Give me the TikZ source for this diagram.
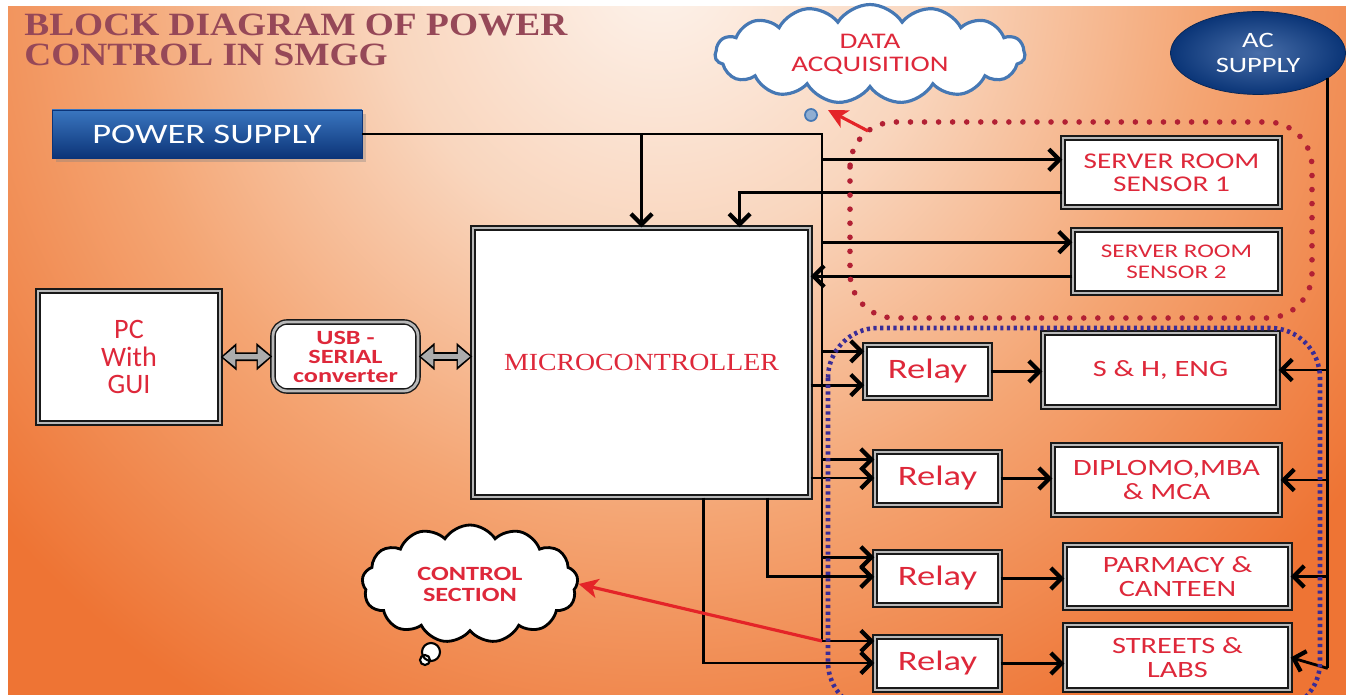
\documentclass[tikz,border=0pt]{standalone}
\usepackage{fontspec}
\setmainfont{Carlito}[FakeStretch=1.3]
\newfontfamily\pcfont{Carlito}
\newfontfamily\mcfont{Liberation Serif}[FakeStretch=1.13]
\newfontfamily\titlefont{Liberation Serif}[FakeStretch=1.15]
\usetikzlibrary{arrows.meta,calc,shapes.geometric,shapes.symbols,shadows}
\definecolor{txtred}{RGB}{222,40,58}
\definecolor{titlecol}{RGB}{150,72,88}
\definecolor{psblue}{RGB}{58,118,192}
\definecolor{psdark}{RGB}{12,52,120}
\definecolor{acblue}{RGB}{12,62,140}
\definecolor{cloudblue}{RGB}{70,120,180}
\definecolor{dotred}{RGB}{178,32,52}
\definecolor{dotblue}{RGB}{58,44,150}
\definecolor{arrred}{RGB}{228,36,40}
\definecolor{bgA}{RGB}{253,243,236}
\definecolor{bgB}{RGB}{249,214,190}
\definecolor{bgC}{RGB}{244,165,115}
\definecolor{bgD}{RGB}{238,116,52}
\pgfdeclareradialshading{bgshade}{\pgfpoint{0bp}{0bp}}{color(0bp)=(bgA); color(8bp)=(bgB); color(16bp)=(bgC); color(25bp)=(bgD); color(50bp)=(bgD)}
\begin{document}
\begin{tikzpicture}[x=0.02cm,y=-0.02cm,
  box/.style={draw=black!90,double=gray!55,double distance=1.6pt,line width=0.8pt,fill=white,text=txtred,align=center,inner sep=2pt},
  relaybox/.style={box,minimum width=2.5cm,minimum height=1.06cm,font=\fontsize{16}{18}\selectfont},
  loadbox/.style={box,minimum width=4.5cm,font=\fontsize{13.3}{14}\selectfont},
  wire/.style={line width=1.6pt,black},
  arr/.style={wire,-{Straight Barb[length=6pt,width=12pt,line width=2.4pt]}},
  fatout/.style={line width=5pt,black,{Triangle[length=9pt,width=15pt]}-{Triangle[length=9pt,width=15pt]}},
  fatin/.style={line width=3pt,gray!65,shorten <=1.3pt,shorten >=1.3pt,{Triangle[length=7pt,width=11pt]}-{Triangle[length=7pt,width=11pt]}},
  redarr/.style={line width=1.8pt,arrred,-{Stealth[length=11pt,width=11pt,inset=3pt]}},
  reddots/.style={draw=dotred,line width=3.2pt,line cap=round,dash pattern=on 0pt off 8pt,rounded corners=0.9cm},
  bluedots/.style={draw=dotblue,line width=2.6pt,dash pattern=on 1.8pt off 2pt,rounded corners=1cm}]
\useasboundingbox (0,0) rectangle (1346,695);
% background
\fill[white] (0,0) rectangle (1346,695);
\begin{scope}
\clip (8,7) rectangle (1346,695);
\fill[bgD] (8,7) rectangle (1346,695);
\shade[shading=bgshade] (660,-30) circle (860);
\end{scope}
\node[anchor=north west,align=left,text=titlecol,inner sep=0pt,font=\titlefont\bfseries\fontsize{18.5}{17}\selectfont] (title) at (24,14) {BLOCK DIAGRAM OF POWER\\CONTROL IN SMGG};
% blocks
\node[draw=psdark,top color=psblue,bottom color=psdark,minimum width=6.2cm,minimum height=0.96cm,text=white,font=\fontsize{16}{18}\selectfont,drop shadow={opacity=0.35}] (ps) at (207,134) {POWER SUPPLY};
\node[box,minimum width=6.74cm,minimum height=5.38cm,font=\mcfont\fontsize{14}{16}\selectfont] (mc) at (641.5,362.5) {MICROCONTROLLER};
\node[box,minimum width=3.64cm,minimum height=2.64cm,font=\pcfont\fontsize{16}{15.5}\selectfont] (pc) at (129,357) {PC\\With\\GUI};
\node[box,rounded corners=8pt,minimum width=2.9cm,minimum height=1.38cm,font=\bfseries\fontsize{11.5}{10.8}\selectfont] (usb) at (345.5,356.5) {USB -\\SERIAL\\converter};
\node[box,minimum width=4.34cm,minimum height=1.38cm,font=\fontsize{12.8}{13}\selectfont] (s1) at (1171.5,172.5) {SERVER ROOM\\SENSOR 1};
\node[box,minimum width=4.14cm,minimum height=1.26cm,font=\fontsize{11}{12}\selectfont] (s2) at (1176.5,261.5) {SERVER ROOM\\SENSOR 2};
\node[relaybox] (r1) at (927.5,371.5) {Relay};
\node[relaybox] (r2) at (937.5,478.5) {Relay};
\node[relaybox] (r3) at (937.5,578.5) {Relay};
\node[relaybox] (r4) at (937.5,663.5) {Relay};
\node[loadbox,minimum width=4.7cm,minimum height=1.48cm] (l1) at (1160.5,370) {S \& H, ENG};
\node[loadbox,minimum width=4.54cm,minimum height=1.4cm] (l2) at (1166.5,480) {DIPLOMO,MBA\\\& MCA};
\node[loadbox,minimum height=1.26cm] (l3) at (1177.5,576.5) {PARMACY \&\\CANTEEN};
\node[loadbox,minimum height=1.3cm] (l4) at (1177.5,657.5) {STREETS \&\\LABS};
\node[ellipse,inner color=acblue!75!white,outer color=acblue!85!black,draw=acblue!60!black,minimum width=3.5cm,minimum height=1.66cm,text=white,align=center,font=\fontsize{12.5}{14}\selectfont] (ac) at (1258,53) {AC\\SUPPLY};
% clouds
\node[cloud,cloud puffs=15,cloud puff arc=115,cloud ignores aspect,draw=cloudblue,line width=1.8pt,fill=white,minimum width=6.2cm,minimum height=1.84cm,text=txtred,align=center,font=\fontsize{12.7}{13}\selectfont] (daq) at (870,54) {DATA\\ACQUISITION};
\node[cloud,cloud puffs=13,cloud puff arc=115,cloud ignores aspect,draw=black,line width=1.6pt,fill=white,minimum width=4.32cm,minimum height=2.36cm,text=txtred,align=center,font=\bfseries\fontsize{11.5}{12}\selectfont] (ctrl) at (470,584) {CONTROL\\SECTION};
\draw[cloudblue,fill=cloudblue!60,line width=1pt] (811,115) circle (6);
\draw[black,fill=white,line width=1.2pt] (431,652) circle (9) (425,660) circle (5);
% power bus
\coordinate (bustop) at (822,134);
\coordinate (busbot) at (822,641);
\draw[wire] (ps.east) -- (bustop) -- (busbot);
\draw[arr] (ps.east -| mc.north) -- (mc.north);
% sensors
\coordinate (s1in) at ($(s1.north west)!0.32!(s1.south west)$);
\coordinate (s1out) at ($(s1.north west)!0.78!(s1.south west)$);
\coordinate (s2in) at ($(s2.north west)!0.2!(s2.south west)$);
\coordinate (s2out) at ($(s2.north west)!0.73!(s2.south west)$);
\draw[arr] (bustop |- s1in) -- (s1in);
\draw[arr] (s1out) -| ($(mc.north west)!0.79!(mc.north east)$);
\draw[arr] (bustop |- s2in) -- (s2in);
\draw[arr] (s2out) -- (mc.east |- s2out);
% relays
\coordinate (r1a) at ($(r1.north west)!0.13!(r1.south west)$);
\coordinate (r1b) at ($(r1.north west)!0.75!(r1.south west)$);
\coordinate (r2a) at ($(r2.north west)!0.15!(r2.south west)$);
\coordinate (r2b) at ($(r2.north west)!0.49!(r2.south west)$);
\coordinate (r3a) at ($(r3.north west)!0.11!(r3.south west)$);
\coordinate (r3b) at ($(r3.north west)!0.47!(r3.south west)$);
\coordinate (r4b) at ($(r4.north west)!0.49!(r4.south west)$);
\draw[arr] (bustop |- r1a) -- (r1a);
\draw[arr] (mc.east |- r1b) -- (r1b);
\draw[arr] (bustop |- r2a) -- (r2a);
\draw[arr] (mc.east |- r2b) -- (r2b);
\draw[arr] (bustop |- r3a) -- (r3a);
\draw[arr] ($(mc.south west)!0.872!(mc.south east)$) |- (r3b);
\draw[arr] (busbot) -- (busbot -| r4.west);
\draw[arr] ($(mc.south west)!0.683!(mc.south east)$) |- (r4b);
\draw[arr] (r1.east) -- (r1.east -| l1.west);
\draw[arr] (r2.east) -- (r2.east -| l2.west);
\draw[arr] (r3.east) -- (r3.east -| l3.west);
\draw[arr] (r4.east) -- (r4.east -| l4.west);
% ac supply
\path (ac.-20) ++(0,590) coordinate (acbot);
\draw[wire] (ac.-20) -- (acbot);
\draw[arr] (acbot |- l1.east) -- (l1.east);
\draw[arr] (acbot |- l2.east) -- (l2.east);
\draw[arr] (acbot |- l3.east) -- (l3.east);
\draw[arr] (acbot) -- (l4.east);
% pc link
\draw[fatout] (pc.east) -- (usb.west);
\draw[fatin] (pc.east) -- (usb.west);
\draw[fatout] (usb.east) -- (mc.west |- usb.east);
\draw[fatin] (usb.east) -- (mc.west |- usb.east);
% groups
\draw[reddots] (850,122) rectangle (1312,318);
\draw[bluedots] (828,328) rectangle (1320,712);
% labels
\coordinate (daqtip) at (828,110);
\coordinate (daqtail) at (868,131);
\draw[redarr] (daqtail) -- (daqtip);
\draw[redarr] (busbot) -- (ctrl.east);
\end{tikzpicture}
\end{document}
